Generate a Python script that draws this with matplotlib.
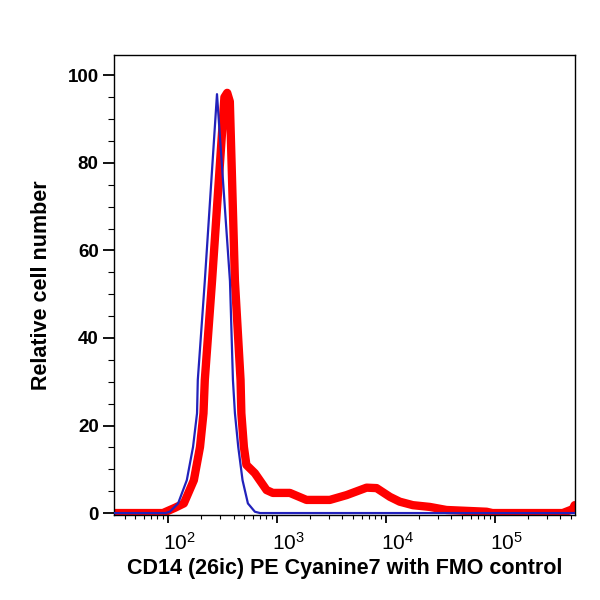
import matplotlib
matplotlib.use("Agg")
import matplotlib.pyplot as plt
from matplotlib.ticker import LogLocator, MultipleLocator, NullFormatter
from matplotlib.transforms import ScaledTranslation

plt.rcParams['font.family'] = ['Liberation Sans', 'DejaVu Sans']
plt.rcParams['mathtext.fontset'] = 'custom'
plt.rcParams['mathtext.rm'] = 'Liberation Sans'
plt.rcParams['mathtext.it'] = 'Liberation Sans'

# FMO control (blue)
fmo_x = [32, 95, 104, 124, 149, 170, 185, 188, 218, 282, 371, 395, 412, 442,
         484, 542, 628, 700, 540000]
fmo_y = [0, 0, 0.3, 2.2, 7.5, 15.1, 22.8, 30.4, 53, 95.7, 53, 30.4, 22.8,
         15.1, 7.5, 2.2, 0.3, 0, 0]

# CD14 PE Cyanine7 stained sample (red)
cd14_x = [32, 90, 100, 116, 140, 173, 197, 212, 218, 254, 330, 350, 370, 412,
          464, 472, 498, 525, 628, 804, 918, 1315, 1870, 3060, 4360, 6650,
          8220, 10900, 13400, 17700, 25300, 36000, 84000, 95000, 420000,
          520000, 540000]
cd14_y = [0, 0, 0.5, 1.2, 2.2, 7.5, 15.1, 22.8, 30.4, 53, 95, 96, 94, 53,
          30.4, 22.8, 15.1, 11, 9.1, 5.25, 4.6, 4.6, 3.0, 3.0, 4.1, 5.8,
          5.7, 3.7, 2.6, 1.8, 1.4, 0.7, 0.3, 0, 0, 0.9, 1.8]

decades = [1e2, 1e3, 1e4, 1e5]
decade_labels = [r'$10^{2}$', r'$10^{3}$', r'$10^{4}$', r'$10^{5}$']

fig = plt.figure(figsize=(6, 6), dpi=100)
ax = fig.add_axes([0.19, 0.142, 0.768, 0.766])

ax.plot(cd14_x, cd14_y, color='#ff0000', lw=6, solid_joinstyle='round',
        solid_capstyle='round', zorder=2)
ax.plot(fmo_x, fmo_y, color='#2222bb', lw=1.6, zorder=3)

ax.set_xscale('log')
ax.set_xlim(32, 542000)
ax.set_ylim(-0.4, 104.6)

ax.set_xticks(decades)
ax.set_xticklabels(decade_labels)
ax.xaxis.set_minor_locator(LogLocator(base=10, subs=range(2, 10)))
ax.xaxis.set_minor_formatter(NullFormatter())

ax.set_yticks(range(0, 101, 20))
ax.yaxis.set_minor_locator(MultipleLocator(5))
for lab in ax.get_yticklabels():
    lab.set_fontweight('bold')

ax.tick_params(axis='both', which='major', direction='out', width=1.3,
               colors='black')
ax.tick_params(axis='y', which='major', length=8, labelsize=13.5, pad=3)
ax.tick_params(axis='y', which='minor', length=4, width=0.8)
ax.tick_params(axis='x', which='major', length=6, labelsize=15, pad=6)
ax.tick_params(axis='x', which='minor', length=3, width=0.8)

# the decade labels start just left of their tick, as in the original
shift = ScaledTranslation(-5 / 100, 0, fig.dpi_scale_trans)
for lab in ax.get_xticklabels():
    lab.set_horizontalalignment('left')
    lab.set_transform(lab.get_transform() + shift)

for sp in ax.spines.values():
    sp.set_linewidth(1.0)

ax.set_xlabel('CD14 (26ic) PE Cyanine7 with FMO control', fontsize=15.5,
              fontweight='bold', labelpad=3)
ax.set_ylabel('Relative cell number', fontsize=15.5, fontweight='bold',
              labelpad=11)

fig.savefig('out.png', dpi=100)
